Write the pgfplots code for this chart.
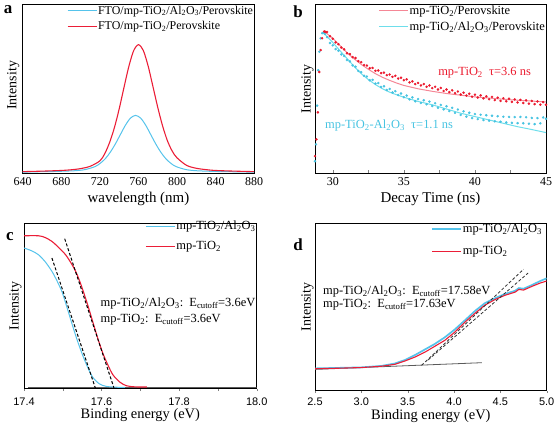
\documentclass[border=0pt]{standalone}
\usepackage{fontspec}
\setmainfont{Liberation Serif}
\setsansfont{Liberation Sans}
\usepackage{pgfplots}
\pgfplotsset{compat=1.18}
\definecolor{cy}{RGB}{85,195,235}
\definecolor{rd}{RGB}{235,30,55}
\definecolor{pinkfit}{RGB}{245,135,150}
\definecolor{cyfit}{RGB}{110,222,235}
\definecolor{rdata}{RGB}{235,25,45}
\definecolor{cdata}{RGB}{70,195,225}
\definecolor{basegray}{RGB}{90,90,90}
\newcommand{\myfs}[1]{\fontsize{#1}{#1}\selectfont}
\pgfplotsset{
  panel/.style={
    scale only axis, ymin=0, ymax=1, ytick=\empty,
    axis line style={line width=0.6pt},
    ylabel={Intensity},
    every axis x label/.style={at={(axis description cs:0.5,-0.155)},anchor=center,font=\myfs{15}},
    every axis y label/.style={at={(axis description cs:-0.036,0.5)},rotate=90,anchor=center,font=\myfs{14}},
    /pgf/number format/assume math mode=true,
    legend cell align=left,
    legend style={draw=none, fill=none, at={(1,1)}, anchor=north east, inner sep=0pt,
      font=\myfs{12.5}, nodes={inner sep=1bp}, row sep=4bp,
      /tikz/every even column/.append style={column sep=3bp}},
    legend image code/.code={\draw[##1] (0bp,0bp) -- (29bp,0bp);},
  }
}
\begin{document}
\begin{tikzpicture}
\path[use as bounding box] (0,0) rectangle (556bp,424bp);
% ---------------- a
\begin{axis}[panel, at={(22.7bp,251bp)}, anchor=south west, width=231.5bp, height=168.4bp,
  xmin=640, xmax=880, xtick={640,680,...,880}, xtick style={draw=none},
  xticklabel style={font=\myfs{12}}, xticklabel shift=1.5bp,
  xlabel={wavelength (nm)},
  every axis y label/.style={at={(axis description cs:-0.041,0.52)},rotate=90,anchor=center,font=\myfs{14}},
  legend style={font=\myfs{12}}]
\addplot[cy, line width=1bp, smooth] coordinates {
(640,0.005)(652,0.007)(673,0.009)(683.5,0.011)(694,0.0135)(704.5,0.020)(715,0.038)(720.25,0.057)
(725.5,0.084)(730.75,0.123)(736,0.172)(741.25,0.228)(746.5,0.284)(751.75,0.326)(757,0.342)
(762.25,0.326)(767.5,0.284)(772.75,0.228)(778,0.172)(783.25,0.123)(788.5,0.084)(793.75,0.057)
(799,0.038)(809.5,0.020)(820,0.0135)(830.5,0.011)(841,0.009)(862,0.007)(880,0.005)};
\addlegendentry{FTO/mp-TiO\textsubscript{2}/Al\textsubscript{2}O\textsubscript{3}/Perovskite}
\addplot[rd, line width=1.1bp, smooth] coordinates {
(640,0.008)(660,0.011)(680,0.015)(690,0.019)(700,0.026)(710,0.040)(720,0.072)(725,0.114)
(730,0.180)(735,0.268)(740,0.380)(745,0.508)(750,0.632)(755,0.726)(760,0.762)(765,0.728)
(770,0.636)(775,0.514)(780,0.390)(785,0.280)(790,0.192)(795,0.130)(800,0.090)(810,0.045)
(820,0.028)(830,0.020)(840,0.015)(860,0.011)(880,0.008)};
\addlegendentry{FTO/mp-TiO\textsubscript{2}/Perovskite}
\end{axis}
\node[font=\bfseries\myfs{17}] at (8bp,414bp) {a};
% ---------------- b
\begin{axis}[panel, at={(315bp,251bp)}, anchor=south west, width=231bp, height=168.4bp,
  xmin=28.75, xmax=45, xtick={30,35,40,45}, minor xtick={32.5,37.5,42.5},
  tick align=inside, xtick pos=left, major tick length=3bp, minor tick length=3bp,
  xticklabel style={font=\myfs{12}}, xticklabel shift=1.5bp,
  xlabel={Decay Time (ns)},
  every axis y label/.style={at={(axis description cs:-0.032,0.5)},rotate=90,anchor=center,font=\myfs{14}}]
\addplot[pinkfit, line width=1bp] coordinates {
(29.4,0.84)(29.7,0.82)(30,0.80)(30.5,0.757)(31,0.715)(31.5,0.678)(32,0.645)(32.5,0.616)(33,0.59)
(33.5,0.568)(34,0.55)(34.5,0.534)(35,0.52)(36,0.50)(37,0.485)(38,0.472)(39,0.462)(40,0.452)
(41,0.445)(42,0.438)(43,0.432)(44,0.427)(45,0.422)};
\addlegendentry{mp-TiO\textsubscript{2}/Perovskite}
\addplot[cyfit, line width=1bp] coordinates {
(29.3,0.835)(29.6,0.81)(30,0.775)(30.5,0.727)(31,0.68)(31.5,0.633)(32,0.59)(32.5,0.555)(33,0.525)
(33.5,0.50)(34,0.48)(34.5,0.464)(35,0.45)(36,0.425)(37,0.405)(38,0.38)(39,0.355)(40,0.335)
(41,0.315)(42,0.295)(43,0.275)(44,0.258)(45,0.24)};
\addlegendentry{mp-TiO\textsubscript{2}/Al\textsubscript{2}O\textsubscript{3}/Perovskite}
\addplot[cdata, only marks, mark=*, mark size=1.05bp, forget plot] coordinates {
(28.75,0.07)(28.82,0.17)(28.9,0.40)(28.98,0.61)(29.06,0.72)(29.15,0.80)(29.25,0.83)(29.35,0.835)(29.45,0.825)
(29.6,0.807)(29.8,0.772)(30.0,0.758)(30.2,0.736)(30.4,0.726)(30.6,0.704)(30.8,0.695)(31.0,0.671)
(31.2,0.663)(31.4,0.639)(31.6,0.631)(31.8,0.606)(32.0,0.599)(32.2,0.577)(32.4,0.573)(32.6,0.551)
(32.8,0.553)(33.0,0.531)(33.2,0.534)(33.4,0.511)(33.6,0.515)(33.8,0.493)(34.0,0.499)(34.2,0.478)
(34.4,0.486)(34.6,0.463)(34.8,0.472)(35.0,0.450)(35.2,0.460)(35.4,0.437)(35.6,0.449)(35.8,0.426)
(36.0,0.439)(36.2,0.416)(36.4,0.432)(36.6,0.408)(36.8,0.424)(37.0,0.398)(37.2,0.414)(37.4,0.387)
(37.6,0.404)(37.8,0.378)(38.0,0.396)(38.2,0.368)(38.4,0.387)(38.6,0.357)(38.8,0.377)(39.0,0.345)
(39.2,0.366)(39.4,0.335)(39.6,0.358)(39.8,0.326)(40.0,0.350)(40.2,0.320)(40.4,0.346)(40.6,0.314)
(40.8,0.343)(41.0,0.311)(41.2,0.340)(41.4,0.307)(41.6,0.337)(41.8,0.304)(42.0,0.334)(42.2,0.300)
(42.4,0.333)(42.6,0.298)(42.8,0.332)(43.0,0.296)(43.2,0.333)(43.4,0.295)(43.6,0.331)(43.8,0.293)
(44.0,0.327)(44.2,0.290)(44.4,0.326)(44.6,0.295)(44.8,0.330)(45.0,0.322)};
\addplot[rdata, only marks, mark=*, mark size=1.05bp, forget plot] coordinates {
(28.75,0.10)(28.85,0.20)(28.95,0.36)(29.05,0.60)(29.15,0.73)(29.25,0.80)(29.4,0.84)(29.5,0.838)
(29.6,0.837)(29.8,0.812)(30.0,0.797)(30.2,0.776)(30.4,0.765)(30.6,0.745)(30.8,0.734)(31.0,0.711)
(31.2,0.706)(31.4,0.688)(31.6,0.683)(31.8,0.664)(32.0,0.658)(32.2,0.641)(32.4,0.638)(32.6,0.622)
(32.8,0.624)(33.0,0.607)(33.2,0.609)(33.4,0.593)(33.6,0.596)(33.8,0.581)(34.0,0.585)(34.2,0.571)
(34.4,0.577)(34.6,0.561)(34.8,0.566)(35.0,0.551)(35.2,0.556)(35.4,0.538)(35.6,0.544)(35.8,0.528)
(36.0,0.535)(36.2,0.520)(36.4,0.528)(36.6,0.512)(36.8,0.520)(37.0,0.504)(37.2,0.512)(37.4,0.496)
(37.6,0.505)(37.8,0.487)(38.0,0.496)(38.2,0.480)(38.4,0.491)(38.6,0.474)(38.8,0.484)(39.0,0.466)
(39.2,0.477)(39.4,0.460)(39.6,0.471)(39.8,0.453)(40.0,0.465)(40.2,0.448)(40.4,0.461)(40.6,0.443)
(40.8,0.455)(41.0,0.438)(41.2,0.452)(41.4,0.433)(41.6,0.447)(41.8,0.428)(42.0,0.444)(42.2,0.426)
(42.4,0.441)(42.6,0.422)(42.8,0.437)(43.0,0.419)(43.2,0.434)(43.4,0.416)(43.6,0.431)(43.8,0.412)
(44.0,0.428)(44.2,0.409)(44.4,0.425)(44.6,0.406)(44.8,0.421)(45.0,0.405)};
\node[anchor=west, inner sep=0pt, text=rdata, font=\myfs{12.5}] at (axis cs:37.41,0.594) {mp-TiO\textsubscript{2}\ \ τ=3.6 ns};
\node[anchor=west, inner sep=0pt, text=cdata, font=\myfs{12.5}] at (axis cs:29.45,0.28) {mp-TiO\textsubscript{2}-Al\textsubscript{2}O\textsubscript{3}\ \ τ=1.1 ns};
\end{axis}
\node[font=\bfseries\myfs{17}] at (298bp,412bp) {b};
% ---------------- c
\begin{axis}[panel, at={(24bp,35.3bp)}, anchor=south west, width=232.7bp, height=165.5bp,
  xmin=17.4, xmax=18.0, xtick={17.4,17.6,17.8,18.0}, minor xtick={17.5,17.7,17.9},
  tick align=outside, xtick pos=left, major tick length=2.5bp, minor tick length=2.5bp,
  xticklabel style={font=\sffamily\myfs{11}, /pgf/number format/fixed, /pgf/number format/fixed zerofill, /pgf/number format/precision=1},
  xticklabel shift=3bp,
  xlabel={Binding energy (eV)},
  every axis x label/.style={at={(axis description cs:0.5,-0.157)},anchor=center,font=\myfs{14.5}},
  legend style={at={(1,1.02)}, row sep=8bp}]
\addplot[basegray, line width=0.8bp, forget plot] coordinates {(17.41,0.008)(18.0,0.008)};
\addplot[cy, line width=1bp, smooth] coordinates {
(17.40,0.85)(17.419,0.834)(17.437,0.81)(17.454,0.769)(17.472,0.709)(17.485,0.652)(17.498,0.585)
(17.511,0.49)(17.524,0.39)(17.537,0.295)(17.55,0.21)(17.564,0.13)(17.577,0.07)(17.594,0.03)
(17.612,0.014)(17.638,0.009)(17.66,0.008)};
\addlegendentry{mp-TiO\textsubscript{2}/Al\textsubscript{2}O\textsubscript{3}}
\addplot[rd, line width=1.1bp, smooth] coordinates {
(17.40,0.924)(17.437,0.924)(17.454,0.914)(17.472,0.89)(17.489,0.854)(17.507,0.81)(17.524,0.749)
(17.537,0.689)(17.55,0.608)(17.564,0.508)(17.577,0.407)(17.59,0.306)(17.603,0.216)(17.616,0.145)
(17.629,0.085)(17.647,0.04)(17.664,0.018)(17.686,0.011)(17.717,0.010)};
\addlegendentry{mp-TiO\textsubscript{2}}
\addplot[black, line width=1bp, dash pattern=on 3bp off 2bp, forget plot] coordinates {(17.505,0.906)(17.632,0.004)};
\addplot[black, line width=1bp, dash pattern=on 3bp off 2bp, forget plot] coordinates {(17.472,0.79)(17.584,0.004)};
\node[anchor=west, inner sep=0pt, font=\myfs{12.5}] at (axis cs:17.597,0.514) {mp-TiO\textsubscript{2}/Al\textsubscript{2}O\textsubscript{3}:\ \ E\textsubscript{cutoff}=3.6eV};
\node[anchor=west, inner sep=0pt, font=\myfs{12.5}] at (axis cs:17.597,0.417) {mp-TiO\textsubscript{2}:\ \ E\textsubscript{cutoff}=3.6eV};
\end{axis}
\node[font=\bfseries\myfs{17}] at (10bp,187bp) {c};
% ---------------- d
\begin{axis}[panel, at={(315bp,33.3bp)}, anchor=south west, width=231.7bp, height=167.7bp,
  xmin=2.5, xmax=5.0, xtick={2.5,3.0,...,5.0},
  tick align=outside, xtick pos=left, major tick length=2.5bp,
  xticklabel style={font=\sffamily\myfs{11}, /pgf/number format/fixed, /pgf/number format/fixed zerofill, /pgf/number format/precision=1},
  xticklabel shift=1.5bp,
  xlabel={Binding energy (eV)},
  every axis x label/.style={at={(axis description cs:0.5,-0.15)},anchor=center,font=\myfs{14.5}},
  every axis y label/.style={at={(axis description cs:-0.032,0.5)},rotate=90,anchor=center,font=\myfs{14}},
  legend style={at={(0.985,1.0)}, row sep=10bp}]
\addplot[basegray, line width=0.8bp, forget plot] coordinates {(2.5,0.127)(4.30,0.167)};
\addplot[cy, line width=1.7bp] coordinates {
(2.5,0.133)(2.75,0.136)(3.0,0.139)(3.22,0.148)(3.36,0.162)(3.47,0.183)(3.58,0.213)(3.69,0.247)
(3.79,0.278)(3.90,0.318)(4.01,0.366)(4.12,0.421)(4.23,0.477)(4.33,0.521)(4.44,0.551)(4.55,0.577)
(4.66,0.596)(4.70,0.612)(4.75,0.608)(4.84,0.630)(4.93,0.654)(5.0,0.670)};
\addlegendentry{mp-TiO\textsubscript{2}/Al\textsubscript{2}O\textsubscript{3}}
\addplot[rd, line width=1.1bp] coordinates {
(2.5,0.131)(2.75,0.134)(3.0,0.138)(3.22,0.146)(3.36,0.157)(3.47,0.177)(3.58,0.201)(3.69,0.231)
(3.79,0.264)(3.90,0.300)(4.01,0.350)(4.12,0.410)(4.23,0.463)(4.33,0.509)(4.44,0.543)(4.55,0.569)
(4.66,0.588)(4.70,0.604)(4.75,0.600)(4.84,0.622)(4.93,0.642)(5.0,0.654)};
\addlegendentry{mp-TiO\textsubscript{2}}
\addplot[black!80, line width=0.8bp, dash pattern=on 3bp off 2bp, forget plot] coordinates {(3.65,0.151)(4.75,0.724)};
\addplot[black!80, line width=0.8bp, dash pattern=on 3bp off 2bp, forget plot] coordinates {(3.72,0.183)(4.80,0.702)};
\node[anchor=west, inner sep=0pt, font=\myfs{12.5}] at (axis cs:2.586,0.589) {mp-TiO\textsubscript{2}/Al\textsubscript{2}O\textsubscript{3}:\ \ E\textsubscript{cutoff}=17.58eV};
\node[anchor=west, inner sep=0pt, font=\myfs{12.5}] at (axis cs:2.586,0.511) {mp-TiO\textsubscript{2}:\ \ E\textsubscript{cutoff}=17.63eV};
\end{axis}
\node[font=\bfseries\myfs{17}] at (298bp,179bp) {d};
\end{tikzpicture}
\end{document}
